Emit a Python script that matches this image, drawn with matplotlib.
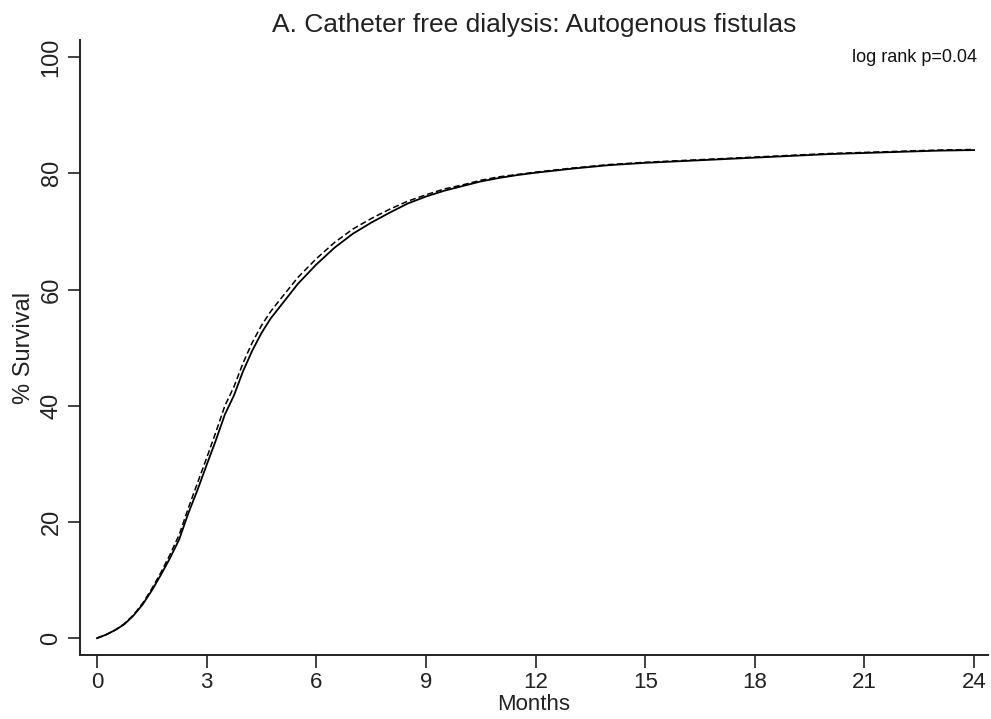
import matplotlib
matplotlib.use("Agg")
import matplotlib.pyplot as plt

plt.rcParams['font.family'] = ['Liberation Sans', 'DejaVu Sans']

# months and % survival
months = [0, 0.25, 0.5, 0.75, 1.0, 1.25, 1.5, 1.75, 2.0, 2.25, 2.5, 2.75,
          3.0, 3.25, 3.5, 3.75, 4.0, 4.25, 4.5, 4.75, 5.0, 5.5, 6.0, 6.5,
          7.0, 7.5, 8.0, 8.5, 9.0, 9.5, 10, 10.5, 11, 11.5, 12, 13, 14, 15,
          16, 17, 18, 19, 20, 21, 22, 23, 24]
solid = [0, 0.6, 1.4, 2.4, 3.9, 5.8, 8.2, 10.9, 13.8, 17.0, 21.5, 25.5,
         29.8, 34.0, 38.5, 41.8, 46.0, 49.5, 52.5, 55.0, 57.0, 61.0, 64.3, 67.2,
         69.6, 71.5, 73.2, 74.8, 76.0, 77.0, 77.8, 78.6, 79.2, 79.7, 80.1, 80.8,
         81.4, 81.8, 82.1, 82.4, 82.7, 83.0, 83.3, 83.5, 83.7, 83.9, 84.0]
dashed = [0, 0.6, 1.4, 2.5, 4.0, 6.0, 8.5, 11.3, 14.4, 17.8, 22.4, 26.7,
          31.0, 35.4, 40.0, 43.3, 47.4, 50.9, 53.8, 56.2, 58.2, 62.1, 65.3, 68.1,
          70.4, 72.2, 73.8, 75.2, 76.3, 77.3, 78.0, 78.8, 79.4, 79.8, 80.2, 80.9,
          81.5, 81.9, 82.2, 82.5, 82.8, 83.1, 83.4, 83.6, 83.8, 84.0, 84.1]

xticks = [0, 3, 6, 9, 12, 15, 18, 21, 24]
yticks = [0, 20, 40, 60, 80, 100]

fig = plt.figure(figsize=(9.91, 7.19), dpi=100)
ax = fig.add_axes([0.0807, 0.089, 0.9163, 0.855])

ax.plot(months, solid, color='black', lw=1.3)
ax.plot(months, dashed, color='black', lw=1.1, ls=(0, (4, 2)))

ax.set_xlim(-0.465, 24.38)
ax.set_ylim(-2.9, 102.9)
ax.set_xticks(xticks)
ax.set_yticks(yticks)
ax.tick_params(axis='both', direction='out', length=9, width=1.3,
               labelsize=17, color='#333333', labelcolor='#222222')
ax.tick_params(axis='x', labelsize=16, pad=3)
for lab in ax.get_yticklabels():
    lab.set_rotation(90)
    lab.set_va('center')

for s in ['top', 'right']:
    ax.spines[s].set_visible(False)
for s in ['left', 'bottom']:
    ax.spines[s].set_linewidth(1.4)
    ax.spines[s].set_color('#222222')

ax.set_xlabel('Months', fontsize=16, labelpad=1, color='#222222')
ax.set_ylabel('% Survival', fontsize=17, labelpad=4, color='#222222')
ax.set_title('A. Catheter free dialysis: Autogenous fistulas', fontsize=19,
             pad=6, color='#222222')
ax.text(0.988, 0.985, 'log rank p=0.04', transform=ax.transAxes,
        ha='right', va='top', fontsize=13, color='#111111')

fig.savefig('out.png', dpi=100)
